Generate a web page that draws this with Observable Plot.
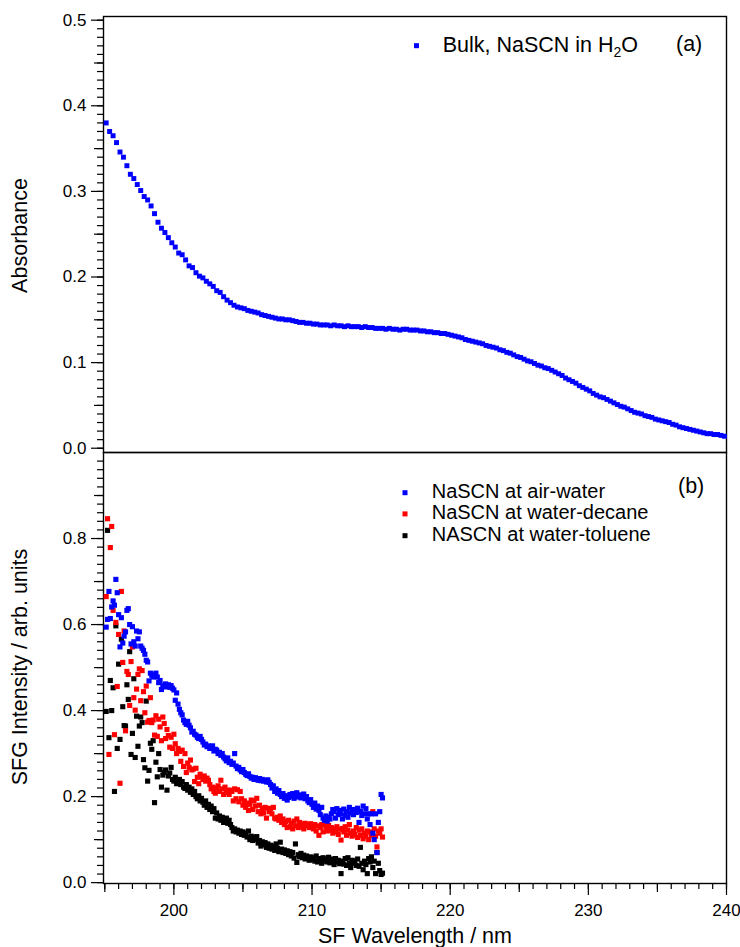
<!DOCTYPE html>
<html><head><meta charset="utf-8">
<script src="https://cdn.jsdelivr.net/npm/d3@7"></script>
<script src="https://cdn.jsdelivr.net/npm/@observablehq/plot@0.6"></script>
<style>
body{margin:0;background:#fff;}
#wrap{position:relative;width:740px;height:947px;font-family:"Liberation Sans",Arial,Helvetica,sans-serif;}
#wrap svg{position:absolute;left:0;overflow:visible;}
</style></head><body><div id="wrap"></div>
<script>
// ---- Panel (a): bulk absorbance, NaSCN in H2O ----
const bulkStart = 195.1, bulkStep = 0.25;
const bulkAbs = [
0.380,0.370,0.365,0.357,0.346,0.340,0.330,0.320,0.315,0.308,
0.301,0.294,0.290,0.283,0.274,0.264,0.257,0.252,0.246,0.240,
0.235,0.228,0.226,0.220,0.213,0.211,0.205,0.201,0.199,0.195,
0.192,0.189,0.184,0.182,0.177,0.173,0.170,0.167,0.165,0.164,
0.163,0.161,0.160,0.159,0.158,0.156,0.155,0.154,0.153,0.152,
0.151,0.151,0.150,0.150,0.149,0.148,0.147,0.147,0.146,0.146,
0.145,0.145,0.144,0.144,0.144,0.143,0.144,0.143,0.143,0.142,
0.143,0.142,0.142,0.142,0.141,0.142,0.141,0.141,0.140,0.140,
0.140,0.139,0.140,0.139,0.139,0.138,0.139,0.139,0.138,0.138,
0.138,0.137,0.137,0.136,0.136,0.135,0.135,0.134,0.134,0.133,
0.132,0.131,0.130,0.129,0.127,0.126,0.125,0.124,0.123,0.122,
0.120,0.119,0.118,0.117,0.115,0.114,0.112,0.111,0.109,0.107,
0.106,0.104,0.102,0.101,0.099,0.097,0.096,0.094,0.093,0.091,
0.089,0.087,0.085,0.082,0.080,0.078,0.076,0.073,0.071,0.069,
0.067,0.064,0.062,0.060,0.059,0.057,0.055,0.053,0.051,0.049,
0.048,0.046,0.044,0.042,0.041,0.040,0.038,0.037,0.036,0.034,
0.033,0.032,0.031,0.030,0.028,0.027,0.025,0.024,0.023,0.022,
0.021,0.020,0.019,0.018,0.017,0.017,0.016,0.016,0.015,0.014];

// ---- Panel (b): SFG intensity ----
const sfgStart = 195.1, sfgStep = 0.1;
const airWater = [
0.594,0.612,0.677,0.614,0.641,0.655,0.645,0.705,0.674,0.623,
0.548,0.616,0.557,0.573,0.583,0.633,0.637,0.600,0.555,0.595,
0.560,0.550,0.585,0.567,0.583,0.550,0.545,0.540,0.531,0.517,
0.513,0.469,0.487,0.482,0.478,0.483,0.487,0.478,0.465,0.470,
0.449,0.458,0.455,0.462,0.456,0.460,0.454,0.458,0.452,0.448,
0.424,0.441,0.415,0.403,0.395,0.390,0.378,0.372,0.368,0.375,
0.366,0.360,0.350,0.352,0.345,0.343,0.338,0.335,0.340,0.333,
0.327,0.320,0.322,0.316,0.318,0.312,0.314,0.318,0.306,0.310,
0.308,0.300,0.303,0.296,0.300,0.292,0.288,0.283,0.290,0.279,
0.282,0.275,0.278,0.300,0.271,0.265,0.268,0.262,0.258,0.263,
0.256,0.252,0.249,0.253,0.247,0.243,0.245,0.240,0.244,0.241,
0.238,0.242,0.237,0.240,0.236,0.238,0.234,0.239,0.233,0.228,
0.220,0.225,0.212,0.218,0.208,0.214,0.205,0.200,0.207,0.196,
0.202,0.192,0.198,0.205,0.200,0.207,0.196,0.203,0.209,0.199,
0.204,0.197,0.201,0.206,0.195,0.200,0.190,0.186,0.193,0.182,
0.175,0.185,0.171,0.178,0.168,0.158,0.175,0.150,0.145,0.155,
0.143,0.152,0.148,0.160,0.170,0.165,0.150,0.172,0.158,0.168,
0.160,0.148,0.171,0.156,0.165,0.152,0.175,0.162,0.170,0.158,
0.170,0.163,0.173,0.140,0.166,0.156,0.178,0.160,0.172,0.148,
0.160,0.135,0.160,0.115,0.100,0.160,0.070,0.140,0.165,0.205,
0.197];
const waterDecane = [
0.665,0.846,0.298,0.779,0.828,0.633,0.344,0.605,0.456,0.577,
0.231,0.677,0.512,0.585,0.353,0.491,0.484,0.412,0.514,0.548,
0.430,0.401,0.450,0.484,0.497,0.423,0.493,0.444,0.395,0.457,
0.373,0.377,0.430,0.372,0.378,0.343,0.388,0.340,0.380,0.362,
0.330,0.385,0.370,0.335,0.356,0.342,0.315,0.338,0.312,0.345,
0.323,0.300,0.312,0.305,0.282,0.308,0.270,0.300,0.256,0.278,
0.268,0.285,0.262,0.264,0.235,0.266,0.245,0.230,0.252,0.246,
0.240,0.248,0.236,0.243,0.238,0.228,0.218,0.222,0.212,0.208,
0.220,0.225,0.212,0.238,0.218,0.205,0.222,0.210,0.215,0.205,
0.215,0.212,0.190,0.218,0.195,0.216,0.188,0.212,0.195,0.180,
0.190,0.175,0.185,0.168,0.182,0.192,0.170,0.190,0.178,0.196,
0.165,0.180,0.160,0.172,0.162,0.175,0.150,0.173,0.165,0.172,
0.160,0.175,0.150,0.148,0.152,0.145,0.155,0.140,0.148,0.135,
0.142,0.128,0.145,0.130,0.138,0.125,0.143,0.132,0.148,0.128,
0.140,0.130,0.136,0.125,0.138,0.132,0.135,0.128,0.137,0.130,
0.125,0.135,0.120,0.132,0.110,0.128,0.135,0.118,0.140,0.130,
0.120,0.133,0.122,0.128,0.115,0.125,0.118,0.130,0.112,0.124,
0.099,0.126,0.118,0.130,0.110,0.122,0.135,0.115,0.108,0.120,
0.112,0.128,0.105,0.122,0.110,0.125,0.102,0.115,0.108,0.120,
0.100,0.118,0.110,0.165,0.125,0.108,0.083,0.120,0.115,0.125,
0.106];
const waterToluene = [
0.398,0.819,0.337,0.470,0.400,0.453,0.212,0.597,0.312,0.508,
0.333,0.566,0.409,0.365,0.364,0.460,0.426,0.537,0.298,0.347,
0.474,0.291,0.387,0.317,0.364,0.385,0.372,0.286,0.267,0.422,
0.236,0.261,0.324,0.310,0.330,0.186,0.280,0.246,0.300,0.263,
0.222,0.250,0.256,0.262,0.215,0.248,0.255,0.268,0.240,0.236,
0.245,0.230,0.233,0.240,0.228,0.235,0.222,0.219,0.228,0.215,
0.222,0.210,0.218,0.205,0.212,0.200,0.195,0.202,0.190,0.196,
0.187,0.180,0.190,0.175,0.182,0.170,0.178,0.165,0.172,0.150,
0.162,0.148,0.155,0.145,0.152,0.140,0.148,0.150,0.138,0.145,
0.135,0.128,0.120,0.125,0.118,0.122,0.115,0.120,0.112,0.118,
0.110,0.115,0.106,0.120,0.100,0.108,0.098,0.105,0.100,0.107,
0.092,0.098,0.085,0.095,0.088,0.093,0.082,0.090,0.080,0.087,
0.078,0.085,0.075,0.090,0.080,0.072,0.094,0.078,0.070,0.076,
0.068,0.074,0.065,0.072,0.062,0.070,0.057,0.090,0.047,0.065,
0.060,0.068,0.058,0.064,0.055,0.062,0.058,0.052,0.060,0.054,
0.058,0.050,0.062,0.048,0.056,0.052,0.045,0.058,0.050,0.055,
0.048,0.059,0.046,0.055,0.050,0.042,0.056,0.048,0.052,0.044,
0.021,0.050,0.043,0.056,0.040,0.058,0.046,0.035,0.052,0.045,
0.050,0.040,0.055,0.038,0.082,0.045,0.030,0.050,0.042,0.021,
0.056,0.048,0.060,0.035,0.050,0.021,0.070,0.045,0.028,0.019,
0.022];

const seriesNames = ["NaSCN at air-water", "NaSCN at water-decane", "NASCN at water-toluene"];
const seriesColors = ["#0000ff", "#ff0000", "#000000"];

// tick values
const xMajor = [200, 210, 220, 230, 240];
const xMid = [195, 205, 215, 225, 235];
const xMinor = d3.range(195, 241, 1);
const aMajor = [0, 0.1, 0.2, 0.3, 0.4, 0.5];
const aMid = [0.05, 0.15, 0.25, 0.35, 0.45];
const aMinor = d3.range(0, 51).map(i => i / 100);
const bMajor = [0, 0.2, 0.4, 0.6, 0.8];
const bMid = [0.1, 0.3, 0.5, 0.7, 0.9];
const bMinor = d3.range(0, 50).map(i => i / 50);

// tables
const bulk = bulkAbs.map((v, i) => ({w: +(bulkStart + i * bulkStep).toFixed(2), v}));
const sfgLists = [airWater, waterDecane, waterToluene];
const sfg = [];
[2, 1, 0].forEach(s => sfgLists[s].forEach((v, i) =>
  sfg.push({w: +(sfgStart + i * sfgStep).toFixed(2), v, s: seriesNames[s]})));

const FONT = '"Liberation Sans", Arial, Helvetica, sans-serif';
const xDomain = [194.906, 240];
const blank = () => "";
const style = {fontFamily: FONT, fontSize: "17px", color: "#000", background: "transparent", overflow: "visible"};

const topPlot = Plot.plot({
  width: 740, height: 460, marginTop: 16, marginBottom: 8, marginLeft: 103, marginRight: 14,
  style,
  x: {domain: xDomain, axis: null},
  y: {domain: [-0.005, 0.5043]},
  marks: [
    Plot.axisY(aMinor, {tickSize: 6, tickFormat: blank, label: null, strokeWidth: 1.2}),
    Plot.axisY(aMid, {tickSize: 9, tickFormat: blank, label: null, strokeWidth: 1.2}),
    Plot.axisY(aMajor, {tickSize: 12, tickPadding: 5, tickFormat: d3.format(".1f"), label: null, strokeWidth: 1.2, fontSize: 17}),
    Plot.frame({stroke: "#000", strokeWidth: 1.4}),
    Plot.dot(bulk, {x: "w", y: "v", symbol: "square", r: 2.8, fill: "#0000ff", stroke: "none"})
  ]
});
topPlot.style.top = "0px";

const botPlot = Plot.plot({
  width: 740, height: 495, marginTop: 0, marginBottom: 64, marginLeft: 103, marginRight: 14,
  style,
  x: {domain: xDomain},
  y: {domain: [-0.002, 1.0]},
  color: {domain: seriesNames, range: seriesColors},
  marks: [
    Plot.axisY(bMinor, {tickSize: 6, tickFormat: blank, label: null, strokeWidth: 1.2}),
    Plot.axisY(bMid, {tickSize: 9, tickFormat: blank, label: null, strokeWidth: 1.2}),
    Plot.axisY(bMajor, {tickSize: 12, tickPadding: 5, tickFormat: d3.format(".1f"), label: null, strokeWidth: 1.2, fontSize: 17}),
    Plot.axisX(xMinor, {tickSize: 6, tickFormat: blank, label: null, strokeWidth: 1.2}),
    Plot.axisX(xMid, {tickSize: 9, tickFormat: blank, label: null, strokeWidth: 1.2}),
    Plot.axisX(xMajor, {tickSize: 12, tickPadding: 8, tickFormat: d => String(d), label: null, strokeWidth: 1.2, fontSize: 17}),
    Plot.frame({stroke: "#000", strokeWidth: 1.4}),
    Plot.dot(sfg, {x: "w", y: "v", symbol: "square", r: 2.9, fill: "s", stroke: "none"})
  ]
});
botPlot.style.top = "452px";

const wrap = document.getElementById("wrap");
wrap.appendChild(topPlot);
wrap.appendChild(botPlot);

// overlay: titles and legends
const ns = "http://www.w3.org/2000/svg";
const ov = document.createElementNS(ns, "svg");
ov.setAttribute("width", 740); ov.setAttribute("height", 947);
ov.style.top = "0px";
ov.style.fontFamily = FONT;
let html = "";
const T = 'font-size="21.5" fill="#000"';
const L = 'font-size="20" fill="#000"';
html += `<text x="415" y="943" text-anchor="middle" ${T}>SF Wavelength / nm</text>`;
html += `<text transform="translate(26.5,235.5) rotate(-90)" text-anchor="middle" ${T}>Absorbance</text>`;
html += `<text transform="translate(26.5,667) rotate(-90)" text-anchor="middle" ${T}>SFG Intensity / arb. units</text>`;
// legend (a)
html += `<rect x="414" y="43.2" width="5" height="5" fill="#0000ff"/>`;
html += `<text x="442.7" y="52.3" ${T}>Bulk, NaSCN in H<tspan dy="4.5" font-size="14">2</tspan><tspan dy="-4.5">O</tspan></text>`;
html += `<text x="676" y="51" ${T}>(a)</text>`;
// legend (b)
const rowsY = [497.5, 518.7, 540.5];
seriesNames.forEach((n, i) => {
  html += `<rect x="402.5" y="${rowsY[i] - 7.3}" width="5" height="5" fill="${seriesColors[i]}"/>`;
  html += `<text x="431.7" y="${rowsY[i]}" ${L}>${n}</text>`;
});
html += `<text x="678" y="493" ${T}>(b)</text>`;
ov.innerHTML = html;
wrap.appendChild(ov);
</script>
</body></html>
